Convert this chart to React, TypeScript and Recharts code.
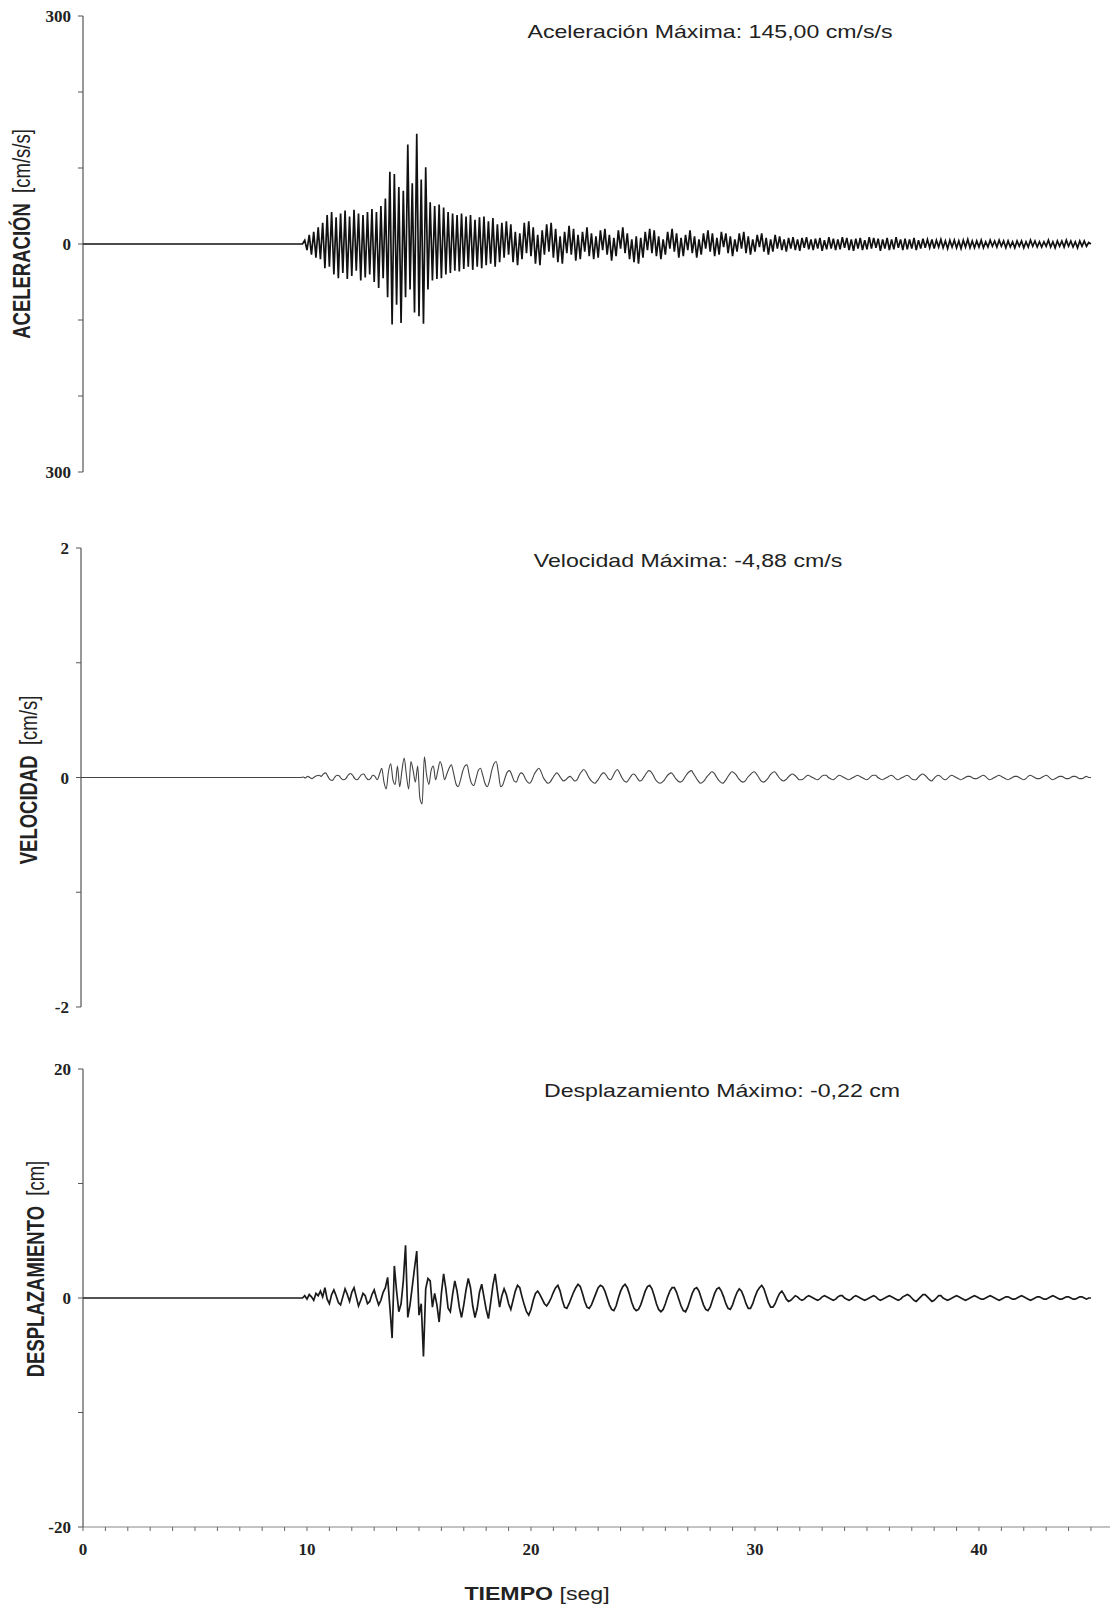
import React from 'react'
import { LineChart, Line, XAxis, YAxis } from 'recharts'

// registro empieza en 9.8 s, un valor cada 0.1 s
const T0 = 9.8
const DT = 0.1

// aceleracion [cm/s/s]
const acceleracion = [
  0, 5, -8, 12, -14, 16, -18, 22, -20, 28,
  -32, 38, -30, 42, -40, 35, -45, 40, -38, 44,
  -46, 36, -42, 45, -35, 40, -48, 38, -44, 42,
  -40, 46, -50, 42, -58, 50, -45, 60, -70, 95,
  -106, 92, -80, 75, -104, 70, -70, 131, -60, 80,
  -90, 145, -95, 85, -105, 101, -60, 55, -48, 50,
  -46, 52, -45, 48, -40, 42, -38, 40, -35, 38,
  -36, 40, -33, 36, -30, 38, -34, 32, -30, 35,
  -32, 36, -28, 30, -26, 34, -30, 26, -24, 28,
  -18, 30, -14, 26, -24, 16, -28, 14, -20, 28,
  -12, 30, -16, 22, -26, 12, -28, 18, -14, 26,
  -10, 28, -18, 20, -24, 10, -26, 16, -12, 24,
  -14, 20, -22, 12, -20, 16, -10, 22, -16, 14,
  -20, 10, -18, 18, -8, 20, -14, 12, -22, 8,
  -16, 18, -6, 22, -12, 14, -20, 6, -24, 10,
  -26, 8, -18, 16, -8, 20, -12, 18, -16, 10,
  -20, 6, -14, 16, -6, 20, -10, 14, -18, 8,
  -16, 12, -8, 18, -12, 10, -18, 6, -14, 14,
  -6, 18, -10, 14, -16, 8, -14, 16, -4, 14,
  -12, 10, -16, 6, -10, 14, -6, 16, -12, 10,
  -14, 6, -10, 12, -4, 14, -10, 8, -14, 6,
  -10, 12, -6, 10, -8, 6, -10, 8, -6, 9,
  -8, 6, -9, 8, -5, 9, -7, 6, -8, 7,
  -6, 8, -9, 5, -7, 9, -6, 7, -8, 6,
  -7, 9, -5, 8, -8, 6, -9, 7, -6, 8,
  -8, 5, -7, 9, -6, 8, -5, 7, -9, 6,
  -6, 8, -8, 6, -7, 9, -5, 6, -8, 7,
  -7, 6, -6, 8, -8, 5, -6, 7, -5, 6,
  -5, 6, -6, 5, -4, 6, -5, 4, -6, 5,
  -4, 5, -5, 4, -6, 5, -4, 6, -5, 4,
  -5, 4, -4, 5, -5, 3, -4, 5, -3, 4,
  -4, 5, -3, 4, -5, 4, -4, 3, -5, 4,
  -3, 4, -5, 3, -4, 5, -3, 4, -4, 3,
  -4, 3, -3, 5, -4, 3, -5, 4, -3, 4,
  -4, 5, -3, 4, -4, 3, -5, 4, -3, 4,
  -3, 2, 0,
]

// velocidad [cm/s]
const velocidad = [
  0, 0.005, -0.005, 0.01, 0, -0.01, 0.005, 0.015, 0.02, 0.01,
  0.03, 0.04, 0.01, -0.02, -0.025, 0, 0.02, 0.015, -0.01, -0.02,
  -0.01, 0.02, 0.035, 0.02, -0.01, -0.02, 0, 0.025, 0.03, 0,
  -0.02, -0.01, 0.02, 0.01, -0.02, 0.03, 0.08, -0.04, -0.1, 0.05,
  0.12, -0.02, -0.06, 0.1, -0.08, 0.06, 0.17, 0.02, -0.1, 0.14,
  0.06, -0.04, 0.1, -0.18, -0.23, 0.18, 0.02, -0.06, 0.06, 0.1,
  -0.02, 0.06, 0.14, 0.08, -0.02, 0.03, 0.08, 0.11, 0.04, -0.05,
  -0.08, -0.03, 0.05, 0.1, 0.11, 0.02, -0.05, -0.07, -0.01, 0.06,
  0.08, 0.02, -0.05, -0.08, -0.03, 0.06, 0.12, 0.14, 0.04, -0.08,
  -0.06, 0, 0.05, 0.06, 0.02, -0.03, -0.04, 0.01, 0.04, 0.03,
  -0.01, -0.04, -0.05, -0.02, 0.03, 0.06, 0.08, 0.05, 0, -0.03,
  -0.05, -0.04, -0.01, 0.02, 0.04, 0.02, -0.01, -0.03, -0.02, 0,
  0.01, -0.01, -0.03, -0.02, 0.02, 0.05, 0.07, 0.05, 0.01, -0.02,
  -0.04, -0.05, -0.03, 0, 0.03, 0.04, 0.02, -0.01, -0.02, 0.01,
  0.05, 0.07, 0.04, 0, -0.03, -0.04, -0.02, 0.01, 0.03, 0.02,
  -0.01, -0.03, -0.02, 0.01, 0.04, 0.06, 0.05, 0.02, -0.02, -0.04,
  -0.05, -0.04, -0.02, 0.01, 0.03, 0.04, 0.02, -0.01, -0.03, -0.04,
  -0.03, 0, 0.03, 0.05, 0.06, 0.03, 0, -0.03, -0.05, -0.04,
  -0.02, 0.01, 0.03, 0.05, 0.04, 0.01, -0.02, -0.04, -0.05, -0.03,
  0, 0.03, 0.05, 0.04, 0.02, -0.01, -0.03, -0.04, -0.03, 0,
  0.02, 0.04, 0.05, 0.03, 0, -0.03, -0.04, -0.03, -0.01, 0.02,
  0.04, 0.05, 0.03, 0, -0.02, -0.03, -0.02, 0, 0.02, 0.03,
  0.02, 0, -0.02, -0.02, -0.01, 0.01, 0.02, 0.01, 0, -0.01,
  -0.02, -0.01, 0.01, 0.02, 0.02, 0, -0.01, -0.02, -0.01, 0.01,
  0.02, 0.01, 0, -0.01, -0.02, -0.01, 0, 0.01, 0.02, 0.01,
  0, -0.01, -0.02, -0.01, 0.01, 0.02, 0.02, 0, -0.01, -0.02,
  -0.01, 0, 0.01, 0.02, 0.01, -0.01, -0.02, -0.01, 0, 0.01,
  0.02, 0.01, -0.01, -0.02, -0.02, 0, 0.02, 0.03, 0.02, 0,
  -0.02, -0.03, -0.01, 0.01, 0.02, 0.01, -0.01, -0.02, -0.01, 0.01,
  0.02, 0.01, 0, -0.01, -0.02, -0.01, 0, 0.01, 0.01, 0,
  -0.01, -0.01, 0, 0.01, 0.02, 0.01, -0.01, -0.02, -0.01, 0,
  0.01, 0.02, 0.01, 0, -0.01, -0.02, -0.01, 0, 0.01, 0.01,
  0, -0.01, -0.02, -0.01, 0.01, 0.02, 0.01, 0, -0.01, -0.01,
  0, 0.01, 0.02, 0.01, -0.01, -0.02, -0.01, 0, 0.01, 0.01,
  0, -0.01, -0.01, 0, 0.01, 0.01, 0, -0.01, -0.01, 0,
  0.01, 0, 0,
]

// desplazamiento [cm]
const desplazamiento = [
  0, 0.2, -0.1, 0.3, 0.1, -0.2, 0.4, 0.2, 0.6, 0.1,
  0.9, -0.1, -0.5, 0.3, 0.7, 0.2, -0.4, -0.6, 0.1, 0.8,
  0.3, -0.3, 0.5, 0.9, 0.1, -0.7, -0.2, 0.4, 0.2, -0.5,
  -0.3, 0.3, 0.7, 0, -0.6, -0.2, 0.5, 0.9, 1.8, -0.8,
  -3.5, 2.8, 0.6, -1.2, -0.5, 1.5, 4.6, -1.7, -0.6, 1.0,
  2.6, 4.1, -1.5, -0.5, -5.1, 0.8, 1.7, 1.5, -0.8, 0.4,
  -0.6, -2.1, 0.4, 2.1, 0.8, -0.9, -1.2, 0.3, 1.5, 0.6,
  -0.8, -1.7, -0.6, 0.7, 1.7, 0.9, -0.7, -1.7, -0.9, 0.5,
  1.2, 0.1, -1.0, -1.8, -0.4, 1.1, 2.1, 0.6, -0.8, 0.2,
  0.8, 0.3, -0.5, -1.0, -0.2, 0.6, 1.1, 0.9, 0.1, -0.6,
  -1.2, -1.5, -1.0, -0.2, 0.4, 0.6, 0.3, -0.1, -0.5, -0.7,
  -0.4, 0, 0.5, 0.9, 1.1, 0.6, -0.2, -0.8, -0.9, -0.5,
  0, 0.5, 0.9, 1.2, 1.0, 0.4, -0.3, -0.8, -0.9, -0.6,
  -0.1, 0.4, 0.9, 1.1, 1.0, 0.6, 0, -0.6, -1.0, -1.1,
  -0.7, 0, 0.6, 1.0, 1.2, 0.9, 0.3, -0.4, -0.9, -1.1,
  -1.0, -0.6, 0, 0.6, 1.0, 1.1, 0.8, 0.2, -0.5, -1.0,
  -1.2, -1.0, -0.5, 0.1, 0.6, 0.9, 0.9, 0.5, -0.1, -0.7,
  -1.1, -1.2, -0.8, -0.2, 0.4, 0.8, 0.9, 0.6, 0, -0.6,
  -1.0, -1.1, -0.8, -0.2, 0.4, 0.8, 0.9, 0.6, 0.1, -0.5,
  -0.9, -1.0, -0.6, 0, 0.5, 0.8, 0.6, 0.1, -0.5, -0.9,
  -0.9, -0.5, 0.1, 0.6, 0.9, 1.1, 0.8, 0.2, -0.4, -0.8,
  -0.8, -0.5, 0, 0.4, 0.6, 0.3, -0.1, -0.3, -0.2, 0,
  0.2, 0.1, -0.1, -0.2, -0.1, 0.1, 0.2, 0.1, 0, -0.1,
  -0.2, -0.1, 0.1, 0.2, 0.1, 0, -0.1, -0.2, -0.1, 0.1,
  0.2, 0.2, 0, -0.1, -0.2, -0.1, 0.1, 0.2, 0.1, 0,
  -0.1, -0.2, -0.1, 0, 0.1, 0.2, 0.1, -0.1, -0.2, -0.1,
  0, 0.1, 0.2, 0.1, 0, -0.1, -0.2, -0.1, 0.1, 0.2,
  0.3, 0.2, 0, -0.2, -0.3, -0.1, 0.1, 0.3, 0.3, 0.1,
  -0.1, -0.3, -0.2, 0, 0.2, 0.2, 0, -0.1, -0.2, -0.1,
  0, 0.1, 0.2, 0.1, 0, -0.1, -0.2, -0.1, 0, 0.1,
  0.2, 0.1, 0, -0.1, -0.1, 0, 0.1, 0.2, 0.1, 0,
  -0.1, -0.2, -0.1, 0, 0.1, 0.1, 0, -0.1, -0.1, 0,
  0.1, 0.2, 0.1, 0, -0.1, -0.2, -0.1, 0, 0.1, 0.1,
  0, -0.1, -0.1, 0, 0.1, 0.2, 0.1, 0, -0.1, -0.1,
  0, 0.1, 0.1, 0, -0.1, -0.1, 0, 0.1, 0.1, 0,
  -0.1, 0, 0,
]

const tiempoTicks = Array.from({ length: 46 }, (_, i) => i)
const tiempoLabels = [0, 10, 20, 30, 40]

const accTicks = [-300, -200, -100, 0, 100, 200, 300]
const accLabels = [-300, 0, 300]
const velTicks = [-2, -1, 0, 1, 2]
const velLabels = [-2, 0, 2]
const despTicks = [-20, -10, 0, 10, 20]
const despLabels = [-20, 0, 20]

const X_MAX = 45.85

function buildRows(values: number[]) {
  const rows = [{ t: 0, v: 0 }]
  values.forEach((v, i) => rows.push({ t: Math.round((T0 + i * DT) * 10) / 10, v }))
  return rows
}

const tickStyle = { fontFamily: 'Liberation Serif, serif', fontWeight: 'bold', fontSize: 17, fill: '#222' }

function Panel({ values, ticks, labels, domain, top, height, margin, showX, stroke, strokeWidth, curve, absLabels, axisWidth = 83 }: any) {
  const data = buildRows(values)
  return (
    <div style={{ position: 'absolute', left: 0, top }}>
      <LineChart width={1110} height={height} data={data} margin={margin}>
        <XAxis
          type="number"
          dataKey="t"
          domain={[0, X_MAX]}
          ticks={tiempoTicks}
          interval={0}
          hide={!showX}
          height={40}
          allowDataOverflow
          axisLine={{ stroke: '#888' }}
          tickLine={{ stroke: '#666' }}
          tickSize={4}
          tickMargin={12}
          tick={tickStyle}
          tickFormatter={(v: number) => (tiempoLabels.includes(v) ? String(v) : '')}
        />
        <YAxis
          type="number"
          domain={domain}
          ticks={ticks}
          interval={0}
          width={axisWidth}
          allowDataOverflow
          axisLine={{ stroke: '#333' }}
          tickLine={{ stroke: '#555' }}
          tickSize={5}
          tickMargin={7}
          tick={tickStyle}
          tickFormatter={(v: number) => (labels.includes(v) ? String(absLabels ? Math.abs(v) : v) : '')}
        />
        <Line
          type={curve}
          dataKey="v"
          stroke={stroke}
          strokeWidth={strokeWidth}
          dot={false}
          isAnimationActive={false}
        />
      </LineChart>
    </div>
  )
}

const titleStyle: React.CSSProperties = {
  position: 'absolute',
  transform: 'translate(-50%, -50%) scaleX(1.25)',
  whiteSpace: 'nowrap',
  fontFamily: 'Liberation Sans, Arial, sans-serif',
  fontSize: 18.5,
  color: '#222',
}

const axisLabelStyle: React.CSSProperties = {
  position: 'absolute',
  transform: 'translate(-50%, -50%) scaleX(1.25) rotate(-90deg)',
  whiteSpace: 'pre',
  fontFamily: 'Liberation Sans, Arial, sans-serif',
  fontSize: 18.5,
  color: '#222',
}

export default function App() {
  return (
    <div style={{ position: 'absolute', left: 0, top: 0, width: 1110, height: 1607, background: '#fff', overflow: 'hidden' }}>
      <Panel
        values={acceleracion}
        ticks={accTicks}
        labels={accLabels}
        absLabels
        domain={[-300, 300]}
        top={0}
        height={500}
        margin={{ top: 16, right: 0, bottom: 28, left: 0 }}
        stroke="#111"
        strokeWidth={1.7}
        curve="linear"
      />
      <Panel
        values={velocidad}
        ticks={velTicks}
        labels={velLabels}
        domain={[-2, 2]}
        top={530}
        height={500}
        margin={{ top: 18, right: 0, bottom: 23, left: 0 }}
        axisWidth={81}
        stroke="#444"
        strokeWidth={1.1}
        curve="monotone"
      />
      <Panel
        values={desplazamiento}
        ticks={despTicks}
        labels={despLabels}
        domain={[-20, 20]}
        top={1050}
        height={530}
        margin={{ top: 19, right: 0, bottom: 13, left: 0 }}
        showX
        stroke="#1a1a1a"
        strokeWidth={1.7}
        curve="linear"
      />

      <div style={{ ...titleStyle, left: 710, top: 32 }}>Aceleración Máxima: 145,00 cm/s/s</div>
      <div style={{ ...titleStyle, left: 688, top: 561 }}>Velocidad Máxima: -4,88 cm/s</div>
      <div style={{ ...titleStyle, left: 722, top: 1091 }}>Desplazamiento Máximo: -0,22 cm</div>

      <div style={{ ...axisLabelStyle, left: 22, top: 234 }}>
        <b>ACELERACIÓN</b>{'  [cm/s/s]'}
      </div>
      <div style={{ ...axisLabelStyle, left: 29, top: 780 }}>
        <b>VELOCIDAD</b>{'  [cm/s]'}
      </div>
      <div style={{ ...axisLabelStyle, left: 36, top: 1269 }}>
        <b>DESPLAZAMIENTO</b>{'  [cm]'}
      </div>

      <div style={{ ...titleStyle, left: 537, top: 1594, fontSize: 18.5 }}>
        <b>TIEMPO</b> [seg]
      </div>
    </div>
  )
}
